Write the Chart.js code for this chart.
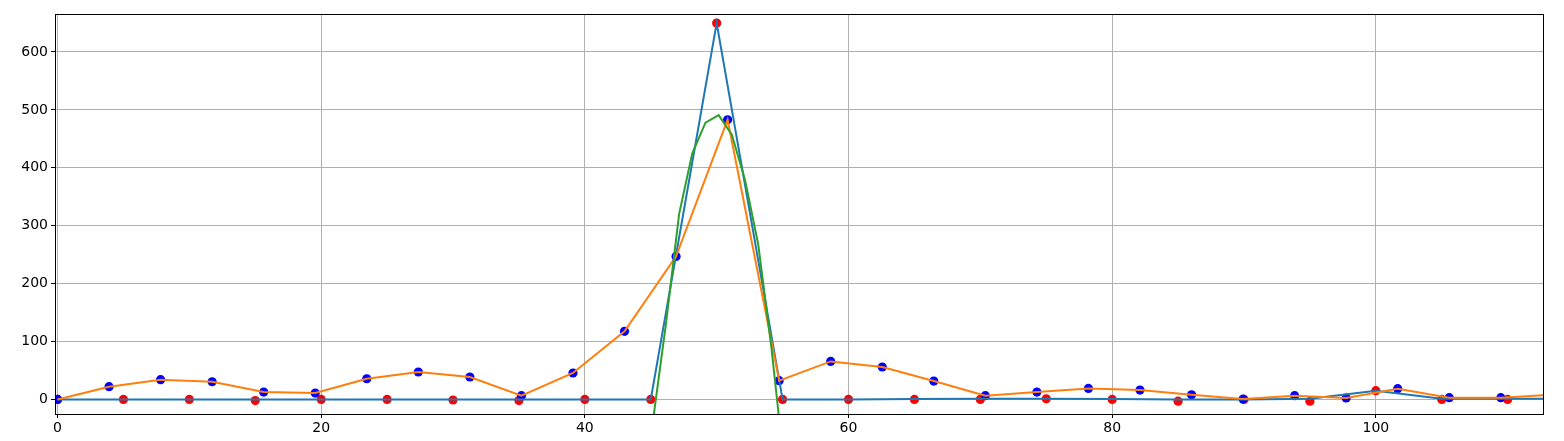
<!DOCTYPE html>
<html>
<head>
<meta charset="utf-8">
<script src="https://cdn.jsdelivr.net/npm/chart.js@4.4.0/dist/chart.umd.min.js"></script>
<style>
  html, body { margin: 0; padding: 0; background: #ffffff; }
  #wrap { width: 1564px; height: 441px; }
</style>
</head>
<body>
<div id="wrap"><canvas id="chart" width="1564" height="441"></canvas></div>
<script>
// signal (blue line) sampled every 5
const signalX = [0, 5, 10, 15, 20, 25, 30, 35, 40, 45, 50, 55, 60, 65, 70, 75, 80, 85, 90, 95, 100, 105, 110, 115];
const signalY = [0, 0, 0, 0, 0, 0, 0, 0, 0, 0, 650, 0, 0, 0.5, 1, 1, 0.5, 0, 0, 1, 15, 1, 1, 1];

// red markers
const redX = [0, 5, 10, 15, 20, 25, 30, 35, 40, 45, 50, 55, 60, 65, 70, 75, 80, 85, 90, 95, 100, 105, 110];
const redY = [0, 0, 0, -2, 0, 0, -1, -2, 0, 0, 650, 0, 0, 0, 0, 1, 0, -3, 0, -3, 15, 0, 0];

// resampled points (blue markers + orange line)
const sampleX = [0, 3.91, 7.82, 11.73, 15.64, 19.55, 23.46, 27.37, 31.28, 35.19, 39.1, 43.01, 46.92, 50.83,
  54.74, 58.65, 62.56, 66.47, 70.38, 74.29, 78.2, 82.11, 86.02, 89.93, 93.84, 97.75, 101.66, 105.57, 109.48, 113.39];
const sampleY = [0, 22, 34, 30.5, 12.7, 11, 35.7, 47.3, 38.7, 6.4, 45.6, 117.5, 247, 483,
  32.3, 65.6, 56, 31.7, 6.4, 12.7, 19, 16.2, 8, 0.6, 6.4, 2.4, 18.5, 3, 3, 8];

// interpolated peak (green line)
const peakX = [45.15, 46.15, 47.15, 48.15, 49.15, 50.15, 51.15, 52.15, 53.15, 54.15, 55.15];
const peakY = [-40, 130, 320, 425, 478, 491, 457, 379, 268, 90, -120];

const xTicks = [0, 20, 40, 60, 80, 100];
const yTicks = [0, 100, 200, 300, 400, 500, 600];

function pts(xs, ys) {
  return xs.map((x, i) => ({ x: x, y: ys[i] }));
}

// box around the plot area, like matplotlib spines
const frame = {
  id: "frame",
  afterDatasetsDraw(chart) {
    const a = chart.chartArea;
    const ctx = chart.ctx;
    ctx.save();
    ctx.strokeStyle = "#000000";
    ctx.lineWidth = 1;
    ctx.strokeRect(Math.round(a.left) + 0.5, Math.round(a.top) + 0.5,
      Math.round(a.right - a.left), Math.round(a.bottom - a.top));
    ctx.restore();
  }
};

const tickFont = { family: "'DejaVu Sans', sans-serif", size: 14 };

new Chart(document.getElementById("chart").getContext("2d"), {
  type: "scatter",
  data: {
    datasets: [
      {
        data: pts(redX, redY),
        showLine: false,
        pointRadius: 4.6,
        pointBackgroundColor: "#ff0000",
        pointBorderWidth: 0,
        order: 5,
        clip: 0,
      },
      {
        data: pts(sampleX, sampleY),
        showLine: false,
        pointRadius: 4.6,
        pointBackgroundColor: "#0000ff",
        pointBorderWidth: 0,
        order: 4,
        clip: 0,
      },
      {
        data: pts(signalX, signalY),
        showLine: true,
        borderColor: "#1f77b4",
        borderWidth: 2,
        pointRadius: 0,
        order: 3,
        clip: 0,
      },
      {
        data: pts(sampleX, sampleY),
        showLine: true,
        borderColor: "#ff7f0e",
        borderWidth: 2,
        pointRadius: 0,
        order: 2,
        clip: 0,
      },
      {
        data: pts(peakX, peakY),
        showLine: true,
        borderColor: "#2ca02c",
        borderWidth: 2,
        pointRadius: 0,
        order: 1,
        clip: 0,
      },
    ],
  },
  options: {
    responsive: false,
    animation: false,
    layout: { padding: { top: 14, right: 21, left: 0, bottom: 0 } },
    plugins: {
      legend: { display: false },
      tooltip: { enabled: false },
    },
    scales: {
      x: {
        type: "linear",
        min: -0.19,
        max: 112.68,
        afterBuildTicks: (axis) => { axis.ticks = xTicks.map((v) => ({ value: v })); },
        afterFit: (axis) => { axis.height = 27; },
        grid: { color: "#b0b0b0", lineWidth: 1, tickColor: "#000000", tickLength: 4 },
        border: { display: false },
        ticks: { color: "#000000", font: tickFont, padding: 2, maxRotation: 0 },
      },
      y: {
        type: "linear",
        min: -25.2,
        max: 665.6,
        afterBuildTicks: (axis) => { axis.ticks = yTicks.map((v) => ({ value: v })); },
        afterFit: (axis) => { axis.width = 55; },
        grid: { color: "#b0b0b0", lineWidth: 1, tickColor: "#000000", tickLength: 4 },
        border: { display: false },
        ticks: { color: "#000000", font: tickFont, padding: 3 },
      },
    },
  },
  plugins: [frame],
});
</script>
</body>
</html>
